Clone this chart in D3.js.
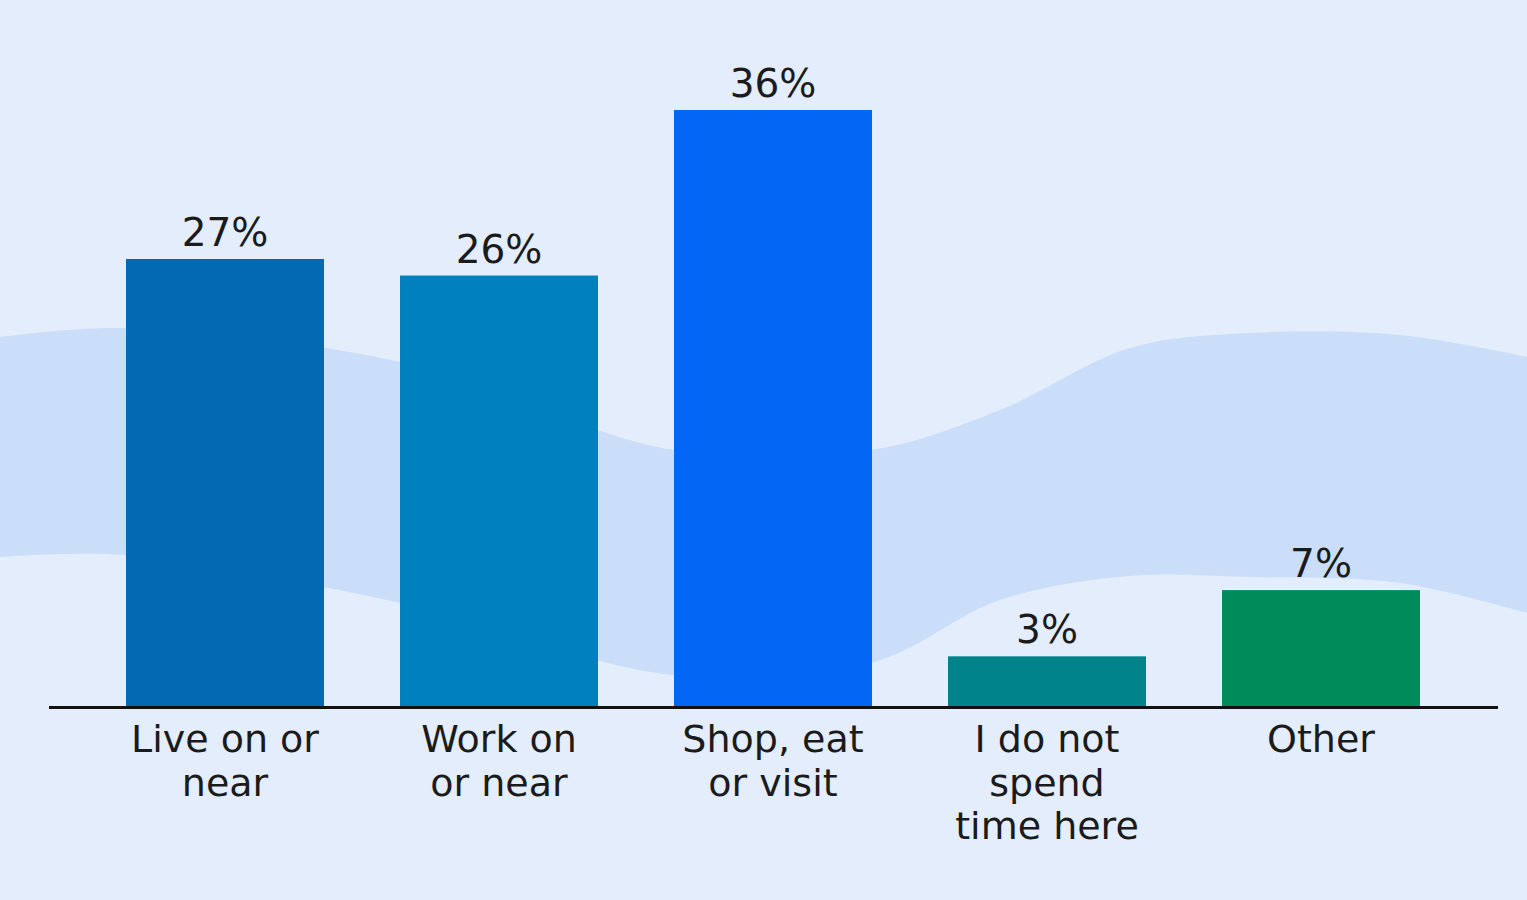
<!DOCTYPE html>
<html>
<head>
<meta charset="utf-8">
<script src="https://cdn.jsdelivr.net/npm/d3@7"></script>
<style>
  html, body { margin: 0; padding: 0; background: #e3edfc; }
  svg { display: block; }
</style>
</head>
<body>
<svg id="chart" width="1527" height="900"></svg>
<script>
// ---- data ----
const categories = [
  ["Live on or", "near"],
  ["Work on", "or near"],
  ["Shop, eat", "or visit"],
  ["I do not", "spend", "time here"],
  ["Other"]
];
const values = [27, 26, 36, 3, 7];
const valueLabels = ["27%", "26%", "36%", "3%", "7%"];
const barColors = ["#0369b2", "#0080bd", "#0466f4", "#00838a", "#008c5a"];

// decorative background wave (x as fraction of width, y in percent units)
const waveX      = [0, 0.0819, 0.262, 0.4414, 0.5704, 0.6549, 0.740, 0.8186, 0.9168, 1.0];
const waveTop    = [22.29, 22.83, 20.78, 15.46, 15.46, 17.88, 21.62, 22.53, 22.41, 21.08];
const waveBottom = [9.0, 9.12, 6.22, 1.87, 2.60, 6.40, 7.85, 7.79, 7.43, 5.62];

// ---- layout ----
const W = 1527, H = 900;
const svg = d3.select("#chart");
const base = 706;
const x = d3.scaleBand().domain(d3.range(values.length)).range([126, 1420]).paddingInner(0.2774).paddingOuter(0);
const y = d3.scaleLinear().domain([0, 36]).range([base, 110]);
const wx = d3.scaleLinear().domain([0, 1]).range([0, W]);

svg.append("rect").attr("width", W).attr("height", H).attr("fill", "#e3edfc");

const waveData = waveX.map((v, i) => ({ x: v, t: waveTop[i], b: waveBottom[i] }));
svg.append("path")
  .datum(waveData)
  .attr("fill", "#cadefa")
  .attr("d", d3.area()
    .x(d => wx(d.x))
    .y0(d => y(d.b))
    .y1(d => y(d.t))
    .curve(d3.curveCatmullRom.alpha(0.5)));

// bars
svg.selectAll("rect.bar")
  .data(values)
  .join("rect")
  .attr("class", "bar")
  .attr("x", (d, i) => x(i))
  .attr("width", x.bandwidth())
  .attr("y", d => y(d))
  .attr("height", d => base - y(d))
  .attr("fill", (d, i) => barColors[i]);

// axis baseline
const axis = d3.axisBottom(x).tickSize(0).tickFormat("");
const gAxis = svg.append("g").attr("transform", `translate(0,${base + 1.5})`).call(axis);
gAxis.select(".domain").attr("stroke", "#111").attr("stroke-width", 3)
  .attr("d", "M49,0H1498");

const font = "'DejaVu Sans', sans-serif";

// value labels
svg.selectAll("text.val")
  .data(values)
  .join("text")
  .attr("class", "val")
  .attr("x", (d, i) => x(i) + x.bandwidth() / 2)
  .attr("y", d => y(d) - 13)
  .attr("text-anchor", "middle")
  .attr("font-family", font)
  .attr("font-size", 39)
  .attr("fill", "#1b1b1b")
  .text((d, i) => valueLabels[i]);

// category labels
const cat = svg.selectAll("text.cat")
  .data(categories)
  .join("text")
  .attr("class", "cat")
  .attr("x", (d, i) => x(i) + x.bandwidth() / 2)
  .attr("y", 752)
  .attr("text-anchor", "middle")
  .attr("font-family", font)
  .attr("font-size", 38)
  .attr("fill", "#1b1b1b");
cat.selectAll("tspan")
  .data((d, i) => d.map(s => ({ s, i })))
  .join("tspan")
  .attr("x", d => x(d.i) + x.bandwidth() / 2)
  .attr("dy", (d, j) => j === 0 ? 0 : 43.5)
  .text(d => d.s);
</script>
</body>
</html>
